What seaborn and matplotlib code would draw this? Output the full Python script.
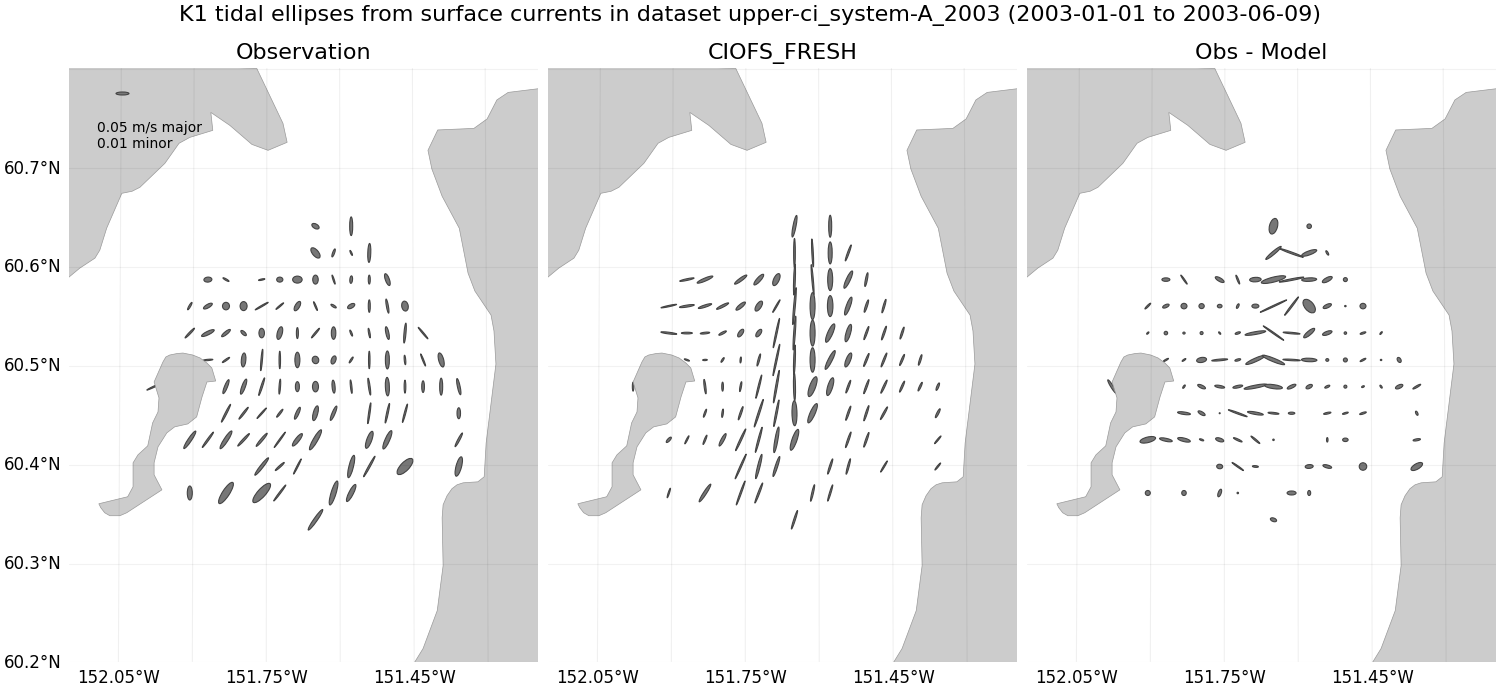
import pandas as pd
import matplotlib.pyplot as plt
import seaborn as sns
from matplotlib.collections import EllipseCollection

# station grid
grid_lon = [-151.980, -151.943, -151.907, -151.870, -151.833, -151.797, -151.760, -151.723, -151.687,
            -151.650, -151.613, -151.577, -151.540, -151.503, -151.467, -151.430, -151.393, -151.357]
grid_lat = [60.6414, 60.6144, 60.5874, 60.5606, 60.5333, 60.5061, 60.4791, 60.4522, 60.4253, 60.3983, 60.3715, 60.3444]

# observation ellipses (row and column in the station grid, axes in pixels, angle in degrees)
obs_row = [0, 0,
           1, 1, 1, 1,
           2, 2, 2, 2, 2, 2, 2, 2, 2, 2,
           3, 3, 3, 3, 3, 3, 3, 3, 3, 3, 3, 3, 3,
           4, 4, 4, 4, 4, 4, 4, 4, 4, 4, 4, 4, 4, 4,
           5, 5, 5, 5, 5, 5, 5, 5, 5, 5, 5, 5, 5, 5,
           6, 6, 6, 6, 6, 6, 6, 6, 6, 6, 6, 6, 6, 6, 6,
           7, 7, 7, 7, 7, 7, 7, 7, 7, 7, 7,
           8, 8, 8, 8, 8, 8, 8, 8, 8, 8, 8,
           9, 9, 9, 9, 9, 9, 9,
           10, 10, 10, 10, 10, 10,
           11]
obs_col = [9, 11,
           9, 10, 11, 12,
           3, 4, 6, 7, 8, 9, 10, 11, 12, 13,
           2, 3, 4, 5, 6, 7, 8, 9, 10, 11, 12, 13, 14,
           2, 3, 4, 5, 6, 7, 8, 9, 10, 11, 12, 13, 14, 15,
           3, 4, 5, 6, 7, 8, 9, 10, 11, 12, 13, 14, 15, 16,
           0, 4, 5, 6, 7, 8, 9, 10, 11, 12, 13, 14, 15, 16, 17,
           4, 5, 6, 7, 8, 9, 10, 12, 13, 14, 17,
           2, 3, 4, 5, 6, 7, 8, 9, 12, 13, 17,
           6, 7, 8, 11, 12, 14, 17,
           2, 4, 6, 7, 10, 11,
           9]
obs_major = [8, 18.7,
             12.5, 8.5, 5.5, 19,
             8, 7, 6.5, 6.2, 9.5, 9, 9.5, 7.5, 9, 12.5,
             8.5, 10, 7.5, 9, 15, 10, 10.5, 9.5, 6.2, 8, 12.5, 14.3, 10,
             13.5, 14, 11, 7, 9.5, 13, 11, 12.5, 12.5, 6.5, 9.7, 13, 20, 15,
             10, 8.8, 14, 21.5, 17.5, 15.5, 7.5, 8.5, 7, 17.5, 18, 9.5, 13, 14.5,
             16, 15, 16, 18.5, 15, 10, 10.5, 13, 13.5, 17, 18.5, 13, 11.7, 17, 16.5,
             20, 15, 14, 10, 13, 15.2, 15.5, 21, 20, 19, 11,
             21, 19, 21, 17, 17, 19, 15.5, 23, 18, 20, 15.5,
             22, 12, 17, 23, 23.5, 21, 20,
             14, 25, 25, 20, 25, 19,
             25]
obs_minor = [4.5, 3,
             6, 2, 1.3, 3,
             5, 1.5, 1.3, 5, 7, 5.5, 1.3, 2.7, 2, 4,
             1.7, 3.5, 7, 7, 1.3, 1.3, 4.5, 1.3, 2, 4, 2, 2, 6.5,
             1.7, 3.5, 3, 3, 5.5, 5, 2, 1.5, 4.5, 1.5, 1.5, 3, 2, 1.3,
             1.3, 1.5, 4.5, 1.5, 1.5, 5, 6.5, 4.5, 1.5, 1.5, 4, 1.5, 1.3, 5,
             1.3, 3, 3.5, 1.7, 1.5, 4, 6, 3, 1.5, 1.7, 4, 1.7, 2.7, 3, 2.7,
             1.7, 1.7, 1.3, 1.7, 3, 4.5, 3, 1.5, 1.7, 1.5, 3.5,
             3.5, 1.7, 4, 2, 2.3, 1.3, 4, 4.5, 5, 4.5, 2,
             3, 1.7, 1.3, 4.5, 1.7, 8.5, 5.5,
             5, 7, 8, 1.5, 5, 4.5,
             3.5]
obs_angle = [-30, 90,
             -50, 70, -65, 88,
             5, -30, 12, 0, 0, 90, -72, 85, 90, -70,
             60, 30, 90, 90, 30, 40, 60, -67, -32, 30, 90, -80, -80,
             46, 26, 39, -43, 90, 75, 90, 50, 90, -68, -80, -78, 85, -50,
             5, 35, 85, 85, 90, 90, -75, 70, 57, 90, 90, -85, -68, -75,
             25, 68, 70, 72, 86, 90, 90, 95, -84, -82, -88, 90, 90, 90, -78,
             63, 52, 48, 52, 66, 75, 67, 82, 78, 75, 90,
             56, 54, 57, 47, 50, 54, 52, 60, 70, 66, 62,
             52, 42, 63, 76, 61, 46, 75,
             90, 57, 48, 53, 73, 63,
             55]

# model ellipses
mod_row = [0, 0,
           1, 1, 1, 1,
           2, 2, 2, 2, 2, 2, 2, 2, 2, 2,
           3, 3, 3, 3, 3, 3, 3, 3, 3, 3, 3, 3, 3,
           4, 4, 4, 4, 4, 4, 4, 4, 4, 4, 4, 4, 4, 4,
           5, 5, 5, 5, 5, 5, 5, 5, 5, 5, 5, 5, 5, 5,
           6, 6, 6, 6, 6, 6, 6, 6, 6, 6, 6, 6, 6, 6, 6,
           7, 7, 7, 7, 7, 7, 7, 7, 7, 7, 7,
           8, 8, 8, 8, 8, 8, 8, 8, 8, 8, 8,
           9, 9, 9, 9, 9, 9, 9,
           10, 10, 10, 10, 10, 10,
           11]
mod_col = [9, 11,
           9, 10, 11, 12,
           3, 4, 6, 7, 8, 9, 10, 11, 12, 13,
           2, 3, 4, 5, 6, 7, 8, 9, 10, 11, 12, 13, 14,
           2, 3, 4, 5, 6, 7, 8, 9, 10, 11, 12, 13, 14, 15,
           3, 4, 5, 6, 7, 8, 9, 10, 11, 12, 13, 14, 15, 16,
           0, 4, 5, 6, 7, 8, 9, 10, 11, 12, 13, 14, 15, 16, 17,
           4, 5, 6, 7, 8, 9, 10, 12, 13, 14, 17,
           2, 3, 4, 5, 6, 7, 8, 9, 12, 13, 17,
           6, 7, 8, 11, 12, 14, 17,
           2, 4, 6, 7, 10, 11,
           9]
mod_major = [22, 22,
             29, 28, 22, 17,
             14.7, 17, 15, 14, 13, 31, 30, 22, 19, 14,
             16, 15, 14, 13.5, 12, 11.5, 14.5, 37, 27, 21, 19, 13, 14,
             16, 11, 9.5, 8.5, 9, 8.8, 30, 34, 26, 20, 18, 14, 14.5, 12.5,
             5.5, 4.7, 5.5, 6, 12.5, 32, 30, 24.5, 21, 15, 14, 15, 12, 11,
             9, 14.5, 9, 10, 24, 33, 28, 21, 18.5, 13.5, 15, 14.5, 12, 9.5, 8,
             8.5, 8.4, 14, 29, 27, 25, 21, 15, 16, 14.5, 10,
             7, 9, 10, 14, 24, 26, 26, 22, 16.5, 15.5, 10,
             27, 25, 21, 16, 16, 13, 9,
             10, 21, 25.5, 21.5, 17, 17,
             19.5]
mod_minor = [3, 3,
             1.7, 1.5, 4, 1.7,
             1.7, 3, 3, 4, 5.5, 1.7, 1.5, 5, 4, 2,
             1.3, 2, 2.3, 2.3, 3.5, 5, 1.3, 1.7, 5, 5.5, 4, 2, 1.7,
             1.7, 1.7, 1.7, 2, 4, 4, 1.5, 1.7, 5, 5, 4.5, 1.7, 1.7, 1.7,
             1.3, 1.3, 1.5, 1.3, 1.7, 1.5, 1.7, 5, 4, 4.5, 1.7, 1.7, 1.7, 1.7,
             1.5, 1.7, 1.7, 1.5, 1.5, 1.7, 2, 6, 5, 1.7, 1.7, 1.7, 1.7, 1.7, 2,
             1.5, 1.5, 1.7, 1.7, 1.7, 5, 5, 1.7, 1.7, 1.7, 2,
             2.5, 1.3, 1.5, 3, 1.7, 1.7, 3, 5, 1.7, 1.7, 1.3,
             1.5, 2.5, 2.5, 1.7, 1.7, 1.3, 1.3,
             1.3, 3, 1.5, 1.7, 1.7, 1.5,
             1.7]
mod_angle = [79, 90,
             90, 93, 90, 70,
             12, 23, 36, 48, 65, 88, 95, 90, 65, 79,
             12, 9, 18, 27, 40, 57, 60, 85, 90, 90, 70, 72, 74,
             -7, 0, 6, 28, 55, 55, 78, 86, 90, 66, 74, 70, 71, 72,
             -20, 3, 57, 85, 75, 78, 88, 90, 63, 68, 68, 68, 67, 73,
             90, 97, 90, 80, 76, 80, 91, 70, 73, 70, 70, 65, 66, 65, 68,
             70, 83, 71, 72, 79, 91, 66, 71, 72, 61, 63,
             47, 63, 68, 62, 65, 75, 80, 71, 71, 71, 50,
             66, 76, 72, 72, 75, 59, 51,
             72, 57, 70, 69, 77, 73,
             72]

# obs minus model ellipses
dif_row = [0, 0,
           1, 1, 1, 1,
           2, 2, 2, 2, 2, 2, 2, 2, 2, 2,
           3, 3, 3, 3, 3, 3, 3, 3, 3, 3, 3, 3, 3,
           4, 4, 4, 4, 4, 4, 4, 4, 4, 4, 4, 4, 4, 4,
           5, 5, 5, 5, 5, 5, 5, 5, 5, 5, 5, 5, 5, 5,
           6, 6, 6, 6, 6, 6, 6, 6, 6, 6, 6, 6, 6, 6, 6,
           7, 7, 7, 7, 7, 7, 7, 7, 7, 7, 7,
           8, 8, 8, 8, 8, 8, 8, 8, 8, 8, 8,
           9, 9, 9, 9, 9, 9, 9,
           10, 10, 10, 10, 10, 10,
           11]
dif_col = [9, 11,
           9, 10, 11, 12,
           3, 4, 6, 7, 8, 9, 10, 11, 12, 13,
           2, 3, 4, 5, 6, 7, 8, 9, 10, 11, 12, 13, 14,
           2, 3, 4, 5, 6, 7, 8, 9, 10, 11, 12, 13, 14, 15,
           3, 4, 5, 6, 7, 8, 9, 10, 11, 12, 13, 14, 15, 16,
           0, 4, 5, 6, 7, 8, 9, 10, 11, 12, 13, 14, 15, 16, 17,
           4, 5, 6, 7, 8, 9, 10, 12, 13, 14, 17,
           2, 3, 4, 5, 6, 7, 8, 9, 12, 13, 17,
           6, 7, 8, 11, 12, 14, 17,
           2, 4, 6, 7, 10, 11,
           9]
dif_major = [16, 4.5,
             20, 25, 16, 5,
             8, 11, 10, 9.5, 11.5, 25, 25, 15, 11, 4,
             8, 7, 6, 5.3, 4.7, 5, 7, 29, 23, 16, 9, 1.5, 6,
             3, 3.5, 2.3, 3, 3, 5.5, 21, 25, 17, 14, 10, 2.5, 6, 3.5,
             6, 4.5, 10, 16, 6, 21, 24, 17.5, 15.5, 3, 4, 6.5, 1.5, 5.5,
             16, 4, 8.5, 10, 10, 23, 18, 9.5, 7, 5.5, 3, 3, 3.5, 8, 9,
             13, 8, 1, 20, 16, 11, 6.5, 7.5, 6, 7, 4.5,
             16, 13, 13, 4.5, 8.5, 9.5, 11.5, 1.5, 4.5, 5.5, 7.5,
             6, 14, 6, 8, 9, 7.5, 13,
             5, 5, 8, 1.5, 9, 5,
             6.5]
dif_minor = [8, 4.5,
             3, 1.7, 4, 1.7,
             3.5, 1.3, 3.5, 1.5, 4.5, 5, 1.7, 3.5, 4, 4,
             1.5, 3, 5.5, 5, 3.5, 2, 4, 1.3, 1.5, 9, 3.5, 1.3, 5.5,
             1.3, 3.5, 2, 3, 1.3, 2, 2.8, 1.3, 1.5, 4, 3.5, 2.5, 1.7, 1.3,
             1.3, 1.3, 5, 1.7, 2, 3.5, 3.5, 1.5, 3.5, 2.7, 4, 1.5, 1.3, 3.5,
             2.5, 1.5, 3, 2.5, 2.5, 3, 4, 3, 3.5, 2, 3, 1.5, 1.5, 3.5, 1.7,
             2.5, 3, 1, 1.5, 2.5, 1.7, 2.2, 1.7, 1.5, 1.7, 2,
             5.5, 3, 3.5, 1.5, 3.5, 1.7, 1.5, 1.5, 1.5, 3.5, 2,
             4.5, 1.3, 1.7, 3.8, 3, 7.5, 5.5,
             5, 4.5, 3, 1.5, 4, 3,
             3.5]
dif_angle = [75, 0,
             40, -20, 20, -60,
             0, -55, -30, -68, 3, 14, 11, 3, 28, 0,
             45, 25, 0, 0, 0, 65, 0, 25, 53, -50, 25, 0, 0,
             45, 0, 0, 0, -50, 18, 10, -35, -5, 40, 20, 0, 18, 50,
             30, 35, 10, 5, 15, 24, -22, -3, -2, 0, 0, 28, 0, -60,
             -58, 55, -25, -10, 12, 11, -8, 25, 28, 25, 0, 25, -55, 25, 30,
             -8, -30, 0, -20, -10, -6, 0, 12, 16, 18, -65,
             14, -12, -14, -20, -18, -25, -40, 0, 90, 0, 10,
             -5, -35, -5, 5, -15, 90, 30,
             90, 90, 70, 0, 0, 90,
             -20]

# coastlines
north_lon = [-152.16, -151.770, -151.7165, -151.708, -151.747, -151.780, -151.825, -151.864, -151.860, -151.907,
             -151.929, -151.958, -152.009, -152.025, -152.046, -152.077, -152.091, -152.101, -152.132, -152.16]
north_lat = [60.81, 60.801, 60.7455, 60.7263, 60.7182, 60.7242, 60.7434, 60.7566, 60.7384, 60.7313,
             60.7253, 60.705, 60.6808, 60.6768, 60.6747, 60.6394, 60.6172, 60.6091, 60.599, 60.5875]
east_lon = [-151.19, -151.256, -151.279, -151.299, -151.326, -151.400, -151.420, -151.412, -151.391, -151.356,
            -151.338, -151.324, -151.291, -151.285, -151.281, -151.301, -151.305, -151.318, -151.348, -151.3605, -151.371,
            -151.381, -151.389, -151.391, -151.389, -151.401, -151.430, -151.46, -151.19]
east_lat = [60.7808, 60.7768, 60.7692, 60.75, 60.7404, 60.7388, 60.7182, 60.6993, 60.6717, 60.6394,
            60.5939, 60.5758, 60.5515, 60.5354, 60.502, 60.4222, 60.3879, 60.3828, 60.3818, 60.3798, 60.3758,
            60.3687, 60.3596, 60.3465, 60.298, 60.2525, 60.2141, 60.19, 60.19]
island_lon = [-151.956, -151.948, -151.933, -151.921, -151.901, -151.886, -151.872, -151.862, -151.854, -151.872, -151.882,
              -151.893, -151.911, -151.938, -151.954, -151.972, -151.980, -151.980, -151.964, -152.036, -152.05, -152.0705,
              -152.081, -152.089, -152.093, -152.034, -152.023, -152.023, -152.013, -151.993, -151.983, -151.972, -151.970,
              -151.980, -151.962]
island_lat = [60.5091, 60.5111, 60.5126, 60.5131, 60.5111, 60.5081, 60.503, 60.498, 60.4848, 60.4838, 60.4687,
              60.4485, 60.4414, 60.4384, 60.4323, 60.4182, 60.402, 60.3899, 60.3747, 60.3515, 60.3485, 60.3485,
              60.3515, 60.3566, 60.3606, 60.3677, 60.3778, 60.402, 60.4101, 60.4192, 60.4424, 60.4535, 60.4677,
              60.4838, 60.504]
coasts = [(north_lon, north_lat), (east_lon, east_lat), (island_lon, island_lat)]

# map ticks
tick_lon = [-152.05, -151.90, -151.75, -151.60, -151.45, -151.30]
label_lon = [-152.05, -151.75, -151.45]
tick_lat = [60.2, 60.3, 60.4, 60.5, 60.6, 60.7, 60.8]
label_lat = [60.2, 60.3, 60.4, 60.5, 60.6, 60.7]
center_lon = -151.675

panels = ['Observation', 'CIOFS_FRESH', 'Obs - Model']


def make_panel(name, row, col, major, minor, angle):
    return pd.DataFrame({'panel': name,
                         'lon': [grid_lon[c] for c in col],
                         'lat': [grid_lat[r] for r in row],
                         'major': major, 'minor': minor, 'angle': angle})


df = pd.concat([make_panel(panels[0], obs_row, obs_col, obs_major, obs_minor, obs_angle),
                make_panel(panels[1], mod_row, mod_col, mod_major, mod_minor, mod_angle),
                make_panel(panels[2], dif_row, dif_col, dif_major, dif_minor, dif_angle)])


def draw_ellipses(data, **kws):
    ax = plt.gca()
    ells = EllipseCollection(data['major'], data['minor'], data['angle'], units='dots',
                             offsets=data[['lon', 'lat']].values, offset_transform=ax.transData,
                             facecolor='#777777', edgecolor='#444444', linewidth=0.8, zorder=2)
    ax.add_collection(ells)


sns.set_theme(style='white')
plt.rcParams['font.family'] = ['DejaVu Sans']
plt.rcParams['text.color'] = 'black'

g = sns.FacetGrid(df, col='panel', col_order=panels, height=7, aspect=1500 / 700 / 3, despine=False,
                  sharex=False, sharey=False)
g.map_dataframe(draw_ellipses)
g.set_titles('{col_name}', size=16, pad=6.5, color='black')
g.set_axis_labels('', '')

for i, ax in enumerate(g.axes.flat):
    for clon, clat in coasts:
        ax.fill(clon, clat, facecolor='#cccccc', edgecolor='#999999', linewidth=0.5, zorder=3)
    # meridians lean in slightly towards the top of the map
    for lon in tick_lon:
        ax.plot([center_lon + (lon - center_lon) * 0.992, center_lon + (lon - center_lon) * 1.008],
                [60.801, 60.201], color='black', alpha=0.06, lw=0.8, zorder=4)
    for lat in tick_lat:
        ax.axhline(lat, color='black', alpha=0.05, lw=0.8, zorder=4)
    ax.set_xlim(-152.154, -151.195)
    ax.set_ylim(60.2005, 60.8015)
    ax.set_xticks([center_lon + (lon - center_lon) * 1.008 for lon in label_lon])
    ax.set_xticklabels([f'{abs(lon):.2f}°W' for lon in label_lon])
    # parallels meet the left edge a little higher than they run across the map
    ax.set_yticks([lat + 0.0018 for lat in label_lat])
    ax.set_yticklabels([f'{lat:.1f}°N' for lat in label_lat])
    ax.tick_params(axis='both', length=0, labelsize=12, labelcolor='black')
    ax.tick_params(axis='x', pad=5)
    ax.tick_params(axis='y', pad=5.5, labelleft=(i == 0))
    sns.despine(ax=ax, left=True, bottom=True)

# scale key in the first panel
key_ax = g.axes.flat[0]
key_ax.add_collection(EllipseCollection([13], [3], [0], units='dots', offsets=[(-152.046, 60.7758)],
                                        offset_transform=key_ax.transData, facecolor='#777777',
                                        edgecolor='#444444', linewidth=0.8, zorder=5))
key_ax.text(-152.097, 60.7328, '0.05 m/s major\n0.01 minor', fontsize=10, color='black', va='center',
            linespacing=1.25, zorder=5)

g.figure.suptitle('K1 tidal ellipses from surface currents in dataset upper-ci_system-A_2003 (2003-01-01 to 2003-06-09)',
                  fontsize=16, y=1 - 16 / 700, va='center', color='black')
g.figure.subplots_adjust(left=69 / 1500, right=1496 / 1500, top=1 - 68 / 700, bottom=1 - 662 / 700, wspace=10 / 469)
g.figure.savefig('out.png', dpi=100)
